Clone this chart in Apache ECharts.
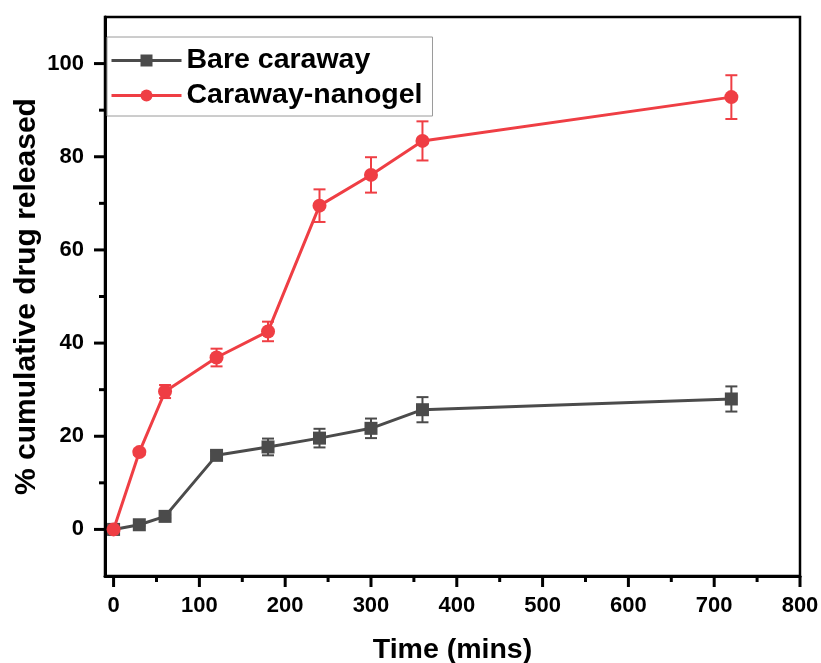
<!DOCTYPE html>
<html>
<head>
<meta charset="utf-8">
<script src="https://cdn.jsdelivr.net/npm/echarts@6/dist/echarts.min.js"></script>
<style>
  html, body { margin: 0; padding: 0; background: #fff; }
  #chart { width: 821px; height: 663px; }
</style>
</head>
<body>
<div id="chart"></div>
<script>
  // time points (mins)
  var timePoints = [0, 30, 60, 120, 180, 240, 300, 360, 720];
  // Bare caraway
  var bareVals = [0, 1.0, 2.8, 15.9, 17.7, 19.6, 21.7, 25.7, 28.0];
  var bareErr = [0, 0.3, 0.4, 0.9, 1.8, 2.0, 2.1, 2.7, 2.7];
  // Caraway-nanogel
  var nanoVals = [0, 16.6, 29.6, 36.9, 42.5, 69.5, 76.1, 83.4, 92.8];
  var nanoErr = [0, 0.6, 1.4, 1.9, 2.1, 3.5, 3.8, 4.2, 4.7];
  // axis ranges and ticks
  var xRange = [-10, 800];
  var yRange = [-10, 110];
  var xMajor = [0, 100, 200, 300, 400, 500, 600, 700, 800];
  var xMinor = [50, 150, 250, 350, 450, 550, 650, 750];
  var yMajor = [0, 20, 40, 60, 80, 100];
  var yMinor = [10, 30, 50, 70, 90];

  var grayColor = '#4b4b4b';
  var redColor = '#ef3e44';
  var font = 'Arial, "Liberation Sans", sans-serif';

  function pairs(xs, ys) {
    var out = [];
    for (var i = 0; i < xs.length; i++) out.push([xs[i], ys[i]]);
    return out;
  }
  function errData(xs, ys, es) {
    var out = [];
    for (var i = 0; i < xs.length; i++) out.push([xs[i], ys[i] - es[i], ys[i] + es[i]]);
    return out;
  }
  function errRender(color) {
    return function (params, api) {
      var lo = api.coord([api.value(0), api.value(1)]);
      var hi = api.coord([api.value(0), api.value(2)]);
      var w = 6;
      var st = { stroke: color, lineWidth: 2 };
      return {
        type: 'group',
        children: [
          { type: 'line', shape: { x1: lo[0], y1: lo[1], x2: hi[0], y2: hi[1] }, style: st },
          { type: 'line', shape: { x1: lo[0] - w, y1: lo[1], x2: lo[0] + w, y2: lo[1] }, style: st },
          { type: 'line', shape: { x1: hi[0] - w, y1: hi[1], x2: hi[0] + w, y2: hi[1] }, style: st }
        ]
      };
    };
  }

  // tick marks drawn through the axis scale: [x, y, length, dir]
  function tickData() {
    var out = [];
    xMajor.forEach(function (v) { out.push([v, yRange[0], 10, 0]); });
    xMinor.forEach(function (v) { out.push([v, yRange[0], 5, 0]); });
    yMajor.forEach(function (v) { out.push([xRange[0], v, 10, 1]); });
    yMinor.forEach(function (v) { out.push([xRange[0], v, 5, 1]); });
    return out;
  }
  function tickRender(params, api) {
    var p = api.coord([api.value(0), api.value(1)]);
    var len = api.value(2);
    var vertical = api.value(3) === 0;
    var shape = vertical
      ? { x1: p[0], y1: p[1], x2: p[0], y2: p[1] + len + 1 }
      : { x1: p[0], y1: p[1], x2: p[0] - len - 1, y2: p[1] };
    return { type: 'line', shape: shape, style: { stroke: '#000', lineWidth: 3 } };
  }

  var myChart = echarts.init(document.getElementById('chart'), null, { renderer: 'canvas' });
  myChart.setOption({
    backgroundColor: '#fff',
    animation: false,
    grid: {
      left: 105, top: 17, width: 695, height: 559,
      outerBoundsMode: 'none', containLabel: false,
      show: true, borderColor: '#000', borderWidth: 2.5, backgroundColor: 'transparent'
    },
    legend: {
      left: 107, top: 37,
      orient: 'vertical',
      data: ['Bare caraway', 'Caraway-nanogel'],
      itemWidth: 70, itemHeight: 15, itemGap: 6,
      padding: [9, 10, 6, 3],
      borderColor: '#9a9a9a', borderWidth: 1,
      backgroundColor: '#fff',
      lineStyle: { width: 3 },
      textStyle: { fontFamily: font, fontWeight: 'bold', fontSize: 28.5, color: '#000' }
    },
    xAxis: {
      type: 'value', min: xRange[0], max: xRange[1],
      name: 'Time (mins)', nameLocation: 'middle', nameGap: 60, nameMoveOverlap: false,
      nameTextStyle: { fontFamily: font, fontWeight: 'bold', fontSize: 28.5, color: '#000' },
      splitLine: { show: false },
      axisLine: { show: true, onZero: false, lineStyle: { color: '#000', width: 3 } },
      axisTick: { show: false },
      axisLabel: { customValues: xMajor, margin: 19, fontFamily: font, fontWeight: 'bold', fontSize: 22, color: '#000' }
    },
    yAxis: {
      type: 'value', min: yRange[0], max: yRange[1],
      name: '% cumulative drug released', nameLocation: 'middle', nameGap: 63, nameMoveOverlap: false,
      nameTextStyle: { fontFamily: font, fontWeight: 'bold', fontSize: 30, color: '#000' },
      splitLine: { show: false },
      axisLine: { show: true, onZero: false, lineStyle: { color: '#000', width: 3 } },
      axisTick: { show: false },
      axisLabel: { customValues: yMajor, margin: 21, fontFamily: font, fontWeight: 'bold', fontSize: 22, color: '#000' }
    },
    series: [
      {
        type: 'custom', name: 'ticks',
        data: tickData(),
        renderItem: tickRender,
        encode: { x: 0, y: 1 },
        clip: false, silent: true, z: 1
      },
      {
        name: 'Bare caraway', type: 'line',
        data: pairs(timePoints, bareVals),
        symbol: 'rect', symbolSize: 13,
        lineStyle: { color: grayColor, width: 3 },
        itemStyle: { color: grayColor },
        z: 3
      },
      {
        type: 'custom', name: 'Bare caraway err',
        data: errData(timePoints, bareVals, bareErr),
        renderItem: errRender(grayColor),
        encode: { x: 0, y: [1, 2] },
        z: 2, silent: true
      },
      {
        name: 'Caraway-nanogel', type: 'line',
        data: pairs(timePoints, nanoVals),
        symbol: 'circle', symbolSize: 14,
        lineStyle: { color: redColor, width: 3 },
        itemStyle: { color: redColor },
        z: 5
      },
      {
        type: 'custom', name: 'Caraway-nanogel err',
        data: errData(timePoints, nanoVals, nanoErr),
        renderItem: errRender(redColor),
        encode: { x: 0, y: [1, 2] },
        z: 4, silent: true
      }
    ]
  });
</script>
</body>
</html>
